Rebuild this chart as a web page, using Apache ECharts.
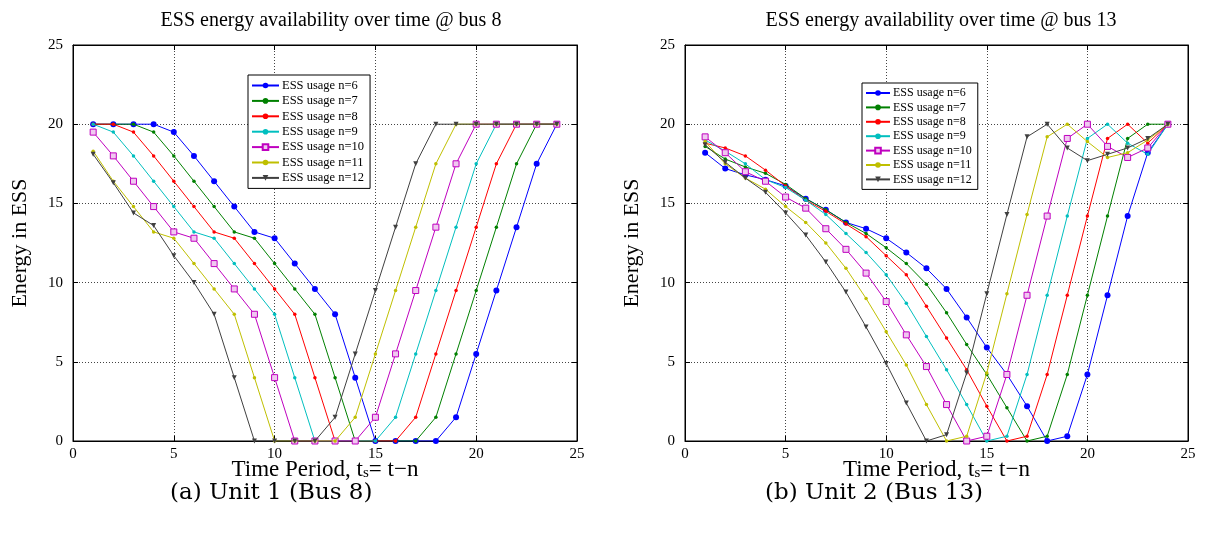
<!DOCTYPE html>
<html>
<head>
<meta charset="utf-8">
<script src="https://cdn.jsdelivr.net/npm/echarts@6/dist/echarts.min.js"></script>
<style>
html,body{margin:0;padding:0;background:#fff;}
#chart{width:1208px;height:542px;}
</style>
</head>
<body>
<div id="chart"></div>
<script>
// ---- data ----
const periods = [1,2,3,4,5,6,7,8,9,10,11,12,13,14,15,16,17,18,19,20,21,22,23,24];
const seriesNames = ['ESS usage n=6','ESS usage n=7','ESS usage n=8','ESS usage n=9','ESS usage n=10','ESS usage n=11','ESS usage n=12'];
const xTicks = [0,5,10,15,20,25];
const yTicks = [0,5,10,15,20,25];

// Unit 1 (Bus 8)
const bus8_n6  = [20,20,20,20,19.5,18,16.4,14.8,13.2,12.8,11.2,9.6,8,4,0,0,0,0,1.5,5.5,9.5,13.5,17.5,20];
const bus8_n7  = [20,20,20,19.5,18,16.4,14.8,13.2,12.8,11.2,9.6,8,4,0,0,0,0,1.5,5.5,9.5,13.5,17.5,20,20];
const bus8_n8  = [20,20,19.5,18,16.4,14.8,13.2,12.8,11.2,9.6,8,4,0,0,0,0,1.5,5.5,9.5,13.5,17.5,20,20,20];
const bus8_n9  = [20,19.5,18,16.4,14.8,13.2,12.8,11.2,9.6,8,4,0,0,0,0,1.5,5.5,9.5,13.5,17.5,20,20,20,20];
const bus8_n10 = [19.5,18,16.4,14.8,13.2,12.8,11.2,9.6,8,4,0,0,0,0,1.5,5.5,9.5,13.5,17.5,20,20,20,20,20];
const bus8_n11 = [18.3,16.4,14.8,13.2,12.8,11.2,9.6,8,4,0,0,0,0,1.5,5.5,9.5,13.5,17.5,20,20,20,20,20,20];
const bus8_n12 = [18.1,16.3,14.4,13.6,11.7,10,8,4,0,0,0,0,1.5,5.5,9.5,13.5,17.5,20,20,20,20,20,20,20];

// Unit 2 (Bus 13)
const bus13_n6  = [18.2,17.2,16.8,16.5,16.1,15.3,14.6,13.8,13.4,12.8,11.9,10.9,9.6,7.8,5.9,4.2,2.2,0,0.3,4.2,9.2,14.2,18.2,20];
const bus13_n7  = [18.6,17.8,17.3,16.9,16.2,15.3,14.6,13.8,13.1,12.2,11.2,9.9,8.1,6.1,4.2,2.1,0,0.3,4.2,9.2,14.2,19.1,20,20];
const bus13_n8  = [18.8,18.5,18.0,17.1,16.1,15.2,14.5,13.7,12.9,11.7,10.5,8.5,6.5,4.5,2.2,0,0.3,4.2,9.2,14.2,19.1,20,18.8,20];
const bus13_n9  = [19.0,18.3,17.5,16.5,16.0,15.2,14.3,13.1,11.9,10.5,8.7,6.6,4.5,2.3,0,0.3,4.2,9.2,14.2,19.1,20,18.8,18.1,20];
const bus13_n10 = [19.2,18.2,17.0,16.4,15.4,14.7,13.4,12.1,10.6,8.8,6.7,4.7,2.3,0,0.3,4.2,9.2,14.2,19.1,20,18.6,17.9,18.5,20];
const bus13_n11 = [18.9,17.5,16.6,15.9,14.8,13.8,12.5,10.9,9.0,6.9,4.8,2.3,0,0.3,4.3,9.3,14.3,19.2,20,18.9,17.9,18.2,19.0,20];
const bus13_n12 = [18.7,17.6,16.6,15.7,14.4,13.0,11.3,9.4,7.2,4.9,2.4,0,0.4,4.3,9.3,14.3,19.2,20,18.5,17.7,18.1,18.5,19.1,20];

const titles = ['ESS energy availability over time @ bus 8','ESS energy availability over time @ bus 13'];
const captions = ['(a) Unit 1 (Bus 8)','(b) Unit 2 (Bus 13)'];
const yName = 'Energy in ESS';

// ---- styles ----
const serif = 'Liberation Serif';
const colors = ['#0000ff','#008000','#ff0000','#00bfbf','#bf00bf','#bfbf00','#404040'];
const markerStyles = [
  {symbol:'circle', symbolSize:6},
  {symbol:'circle', symbolSize:3.5},
  {symbol:'circle', symbolSize:3.5},
  {symbol:'circle', symbolSize:3.5},
  {symbol:'rect', symbolSize:6, hollow:true},
  {symbol:'circle', symbolSize:3.5},
  {symbol:'triangle', symbolSize:5, rotate:180}
];
const leftData = [bus8_n6,bus8_n7,bus8_n8,bus8_n9,bus8_n10,bus8_n11,bus8_n12];
const rightData = [bus13_n6,bus13_n7,bus13_n8,bus13_n9,bus13_n10,bus13_n11,bus13_n12];

const grids = [
  {left:73, top:45, width:504, height:396, show:true, borderColor:'#000', borderWidth:1, backgroundColor:'#fff'},
  {left:685, top:45, width:503, height:396, show:true, borderColor:'#000', borderWidth:1, backgroundColor:'#fff'}
];

function mkX(gi, main){
  return {
    type:'value', gridIndex:gi, min:0, max:25, interval:5,
    position: main ? 'bottom' : 'top',
    axisLine:{show:true, onZero:false, lineStyle:{color:'#000', width:1}},
    axisTick:{show:true, inside:true, length:5, lineStyle:{color:'#000'}},
    axisLabel:{show:main, color:'#000', fontFamily:serif, fontSize:15, margin:6},
    splitLine:{show:main, lineStyle:{color:'#444', type:[1,2], width:1}},
    name: main ? '{a|Time Period, t}{s|s}{a|= t\u2212n}' : '',
    nameLocation:'middle', nameGap:17, nameMoveOverlap:false,
    nameTextStyle:{rich:{a:{fontFamily:serif, fontSize:23, color:'#000'}, s:{fontFamily:serif, fontSize:15, color:'#000', padding:[8,0,0,0]}}}
  };
}
function mkY(gi, main){
  return {
    type:'value', gridIndex:gi, min:0, max:25, interval:5,
    position: main ? 'left' : 'right',
    axisLine:{show:true, onZero:false, lineStyle:{color:'#000', width:1}},
    axisTick:{show:true, inside:true, length:5, lineStyle:{color:'#000'}},
    axisLabel:{show:main, color:'#000', fontFamily:serif, fontSize:15, margin:10},
    splitLine:{show:main, lineStyle:{color:'#444', type:[1,2], width:1}},
    name: main ? yName : '',
    nameLocation:'middle', nameGap:42, nameRotate:90, nameMoveOverlap:false,
    nameTextStyle:{fontFamily:serif, fontSize:22, color:'#000'}
  };
}

const series = [];
[leftData, rightData].forEach((set, gi) => {
  set.forEach((vals, k) => {
    const m = markerStyles[k];
    const itemStyle = m.hollow
      ? {color:'#f0c8f0', borderColor:colors[k], borderWidth:1}
      : {color:colors[k]};
    series.push({
      type:'line', name:seriesNames[k],
      xAxisIndex: gi*2, yAxisIndex: gi*2,
      data: periods.map((p, i) => [p, vals[i]]),
      symbol:m.symbol, symbolSize:m.symbolSize, symbolRotate:m.rotate||0,
      showSymbol:true,
      lineStyle:{color:colors[k], width:1},
      itemStyle:itemStyle,
      emphasis:{disabled:true},
      animation:false,
      z: 3 + k
    });
  });
});

function mkLegend(left, top, w, fs){
  return {
    data: seriesNames, orient:'vertical', left:left, top:top,
    itemWidth:w, itemHeight:7, itemGap:2.4,
    padding:[4,6,4,3],
    borderColor:'#000', borderWidth:1, backgroundColor:'#fff',
    textStyle:{fontFamily:serif, fontSize:fs, color:'#000', lineHeight:12, padding:[0,0,0,-2]},
    selectedMode:false
  };
}

const option = {
  backgroundColor:'#fff',
  animation:false,
  title:[
    {text:titles[0], left:326, top:6, textAlign:'center', textStyle:{fontFamily:serif, fontSize:20, fontWeight:'normal', color:'#000'}},
    {text:titles[1], left:936, top:6, textAlign:'center', textStyle:{fontFamily:serif, fontSize:20, fontWeight:'normal', color:'#000'}}
  ],
  grid: grids,
  xAxis:[mkX(0,true), mkX(0,false), mkX(1,true), mkX(1,false)],
  yAxis:[mkY(0,true), mkY(0,false), mkY(1,true), mkY(1,false)],
  legend:[mkLegend(248, 75, 27, 12.5), mkLegend(862, 83, 24, 12)],
  series: series,
  graphic:[
    {type:'text', left:170, top:482, style:{text:captions[0], font:'23px "DejaVu Serif"', fill:'#000'}},
    {type:'text', left:765, top:482, style:{text:captions[1], font:'23px "DejaVu Serif"', fill:'#000'}}
  ]
};

const chart = echarts.init(document.getElementById('chart'), null, {renderer:'canvas'});
chart.setOption(option);
</script>
</body>
</html>
